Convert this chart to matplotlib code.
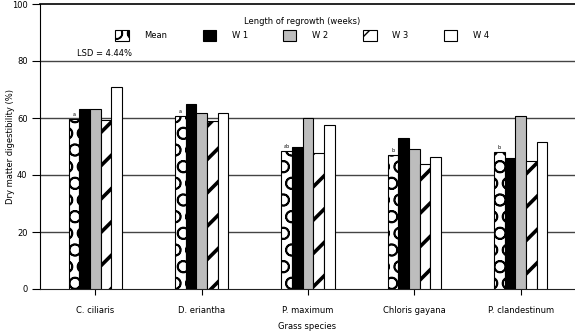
import matplotlib
matplotlib.use("Agg")
import matplotlib.pyplot as plt
import numpy as np

categories = ["C. ciliaris", "D. eriantha", "P. maximum", "Chloris gayana", "P. clandestinum"]
series_names = ["Mean", "W 1", "W 2", "W 3", "W 4"]
mean_vals = [59.5, 60.7, 48.4, 47.0, 48.1]
w1_vals = [63.3, 64.9, 49.9, 53.0, 46.0]
w2_vals = [63.0, 61.6, 59.9, 49.1, 60.7]
w3_vals = [59.3, 58.8, 47.6, 43.9, 44.9]
w4_vals = [70.8, 61.6, 57.4, 46.3, 51.6]
sig_letters = ["a", "a", "ab", "b", "b"]
yticks = [0, 20, 40, 60, 80, 100]

series = [mean_vals, w1_vals, w2_vals, w3_vals, w4_vals]
faces = ["white", "black", "#bdbdbd", "white", "white"]
hatches = ["O", None, None, "/", None]
hlw = [1.2, 1.0, 1.0, 2.6, 1.0]

fig = plt.figure(figsize=(5.75, 3.34), dpi=100)
ax = fig.add_axes([40/575, 1-289/334, 1-40/575, (289-4)/334])

x = np.arange(len(categories))
w = 0.1
handles = []
for i, vals in enumerate(series):
    plt.rcParams['hatch.linewidth'] = hlw[i]
    b = ax.bar(x + (i-2)*w, vals, w, color=faces[i], edgecolor="black",
               linewidth=0.8, hatch=hatches[i], zorder=3, label=series_names[i])
    handles.append(b)

for xi, v, s in zip(x, mean_vals, sig_letters):
    ax.text(xi - 2*w, v + 0.8, s, fontsize=3.5, ha="center", va="bottom", zorder=4)

ax.set_xlim(-0.52, 4.51)
ax.set_ylim(0, 100)
ax.set_yticks(yticks)
ax.set_yticklabels([str(t) for t in yticks], fontsize=6)
ax.set_xticks(x)
ax.set_xticklabels(categories, fontsize=6)
ax.tick_params(axis="y", length=6, width=0.8, pad=3)
ax.tick_params(axis="x", length=4, width=0.8, pad=8)
for yv in [20, 40, 60, 80]:
    ax.axhline(yv, color="#444444", linewidth=1.0, zorder=1)
ax.spines["right"].set_visible(False)
ax.spines["top"].set_linewidth(1.2)
ax.spines["left"].set_linewidth(0.8)
ax.spines["bottom"].set_color("#222222")
ax.set_ylabel("Dry matter digestibility (%)", fontsize=6)
ax.yaxis.set_label_coords(-0.047, 0.5)
ax.set_xlabel("Grass species", fontsize=6, labelpad=5)

leg = ax.legend(handles=handles, labels=series_names, ncol=5, frameon=False,
                loc="upper center", bbox_to_anchor=(0.49, 0.98),
                title="Length of regrowth (weeks)", title_fontsize=6, fontsize=6,
                handlelength=1.6, handleheight=1.6, columnspacing=4.2, handletextpad=1.9)

ax.text(0.07, 0.825, "LSD = 4.44%", transform=ax.transAxes, fontsize=6, ha="left", va="center")

fig.savefig("out.png", dpi=100)
